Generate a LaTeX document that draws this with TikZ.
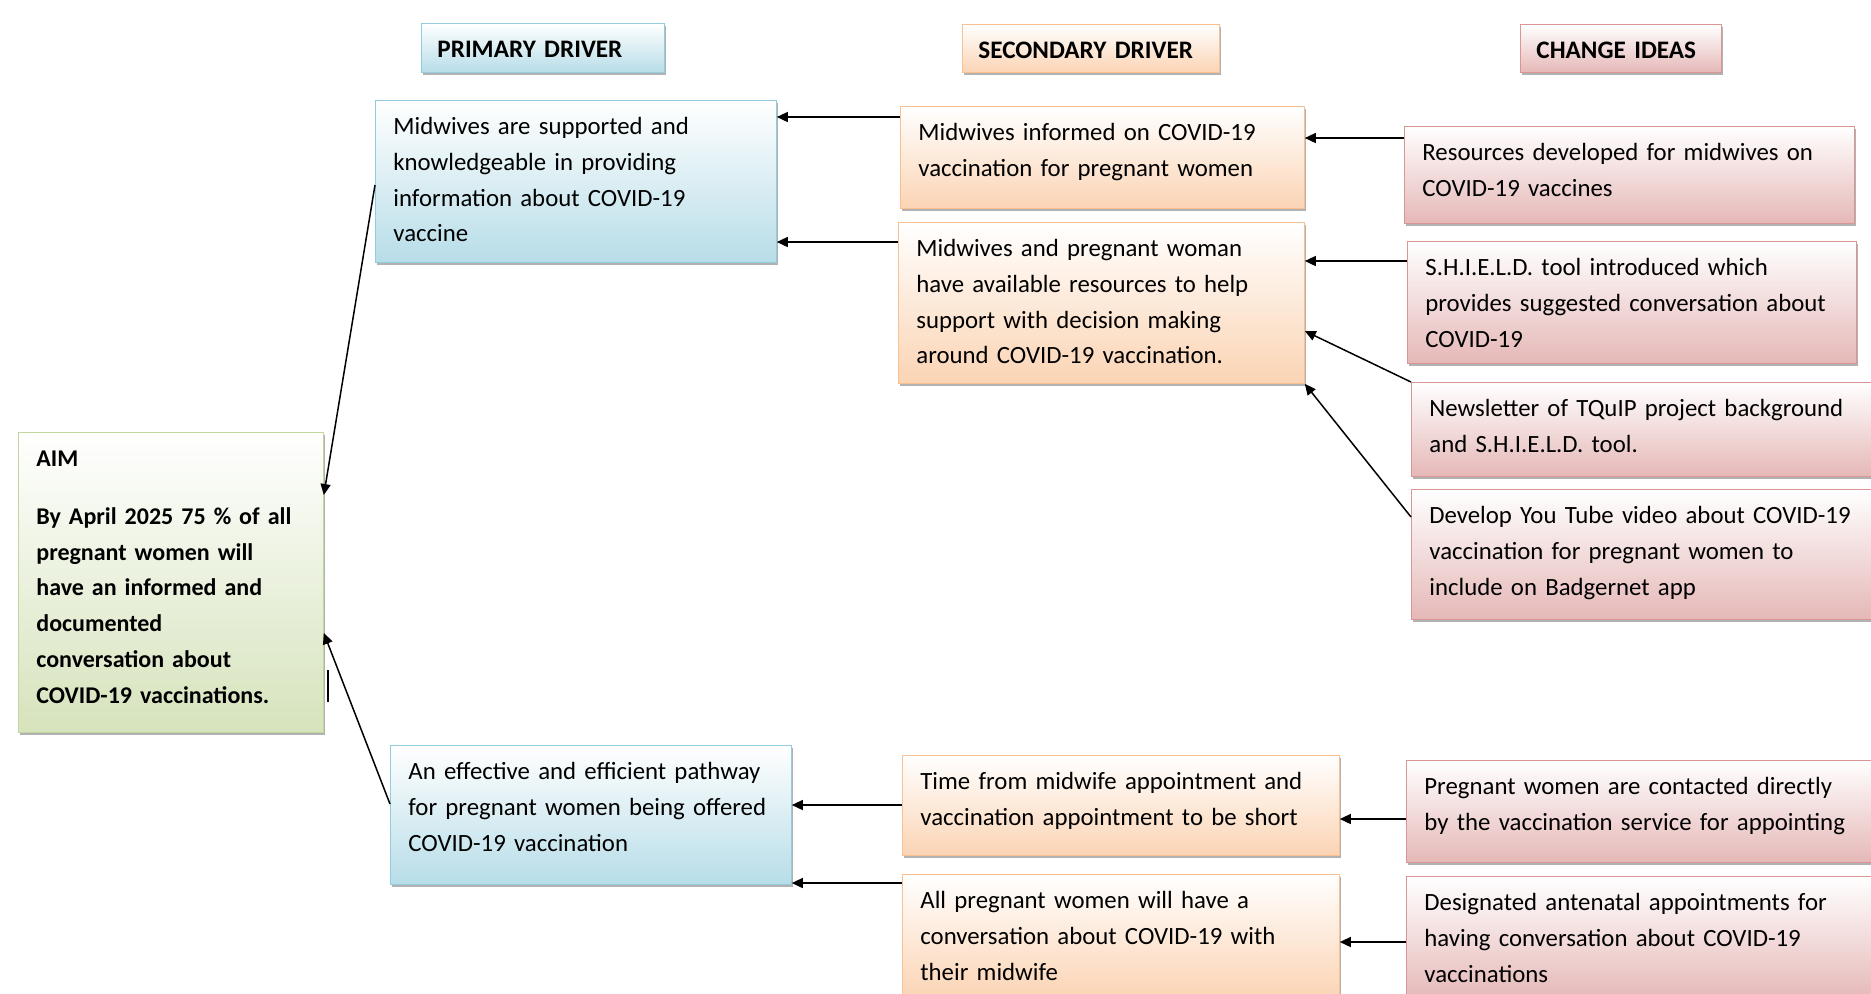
\documentclass[tikz,border=0pt]{standalone}
\usepackage{fontspec}
\setmainfont{Carlito}
\usetikzlibrary{positioning, calc}
\usetikzlibrary{arrows.meta, shadows}
\frenchspacing
\definecolor{priline}{HTML}{93CDDD}
\definecolor{prifill}{HTML}{B7DDE8}
\definecolor{secline}{HTML}{FAC090}
\definecolor{secfill}{HTML}{FBD4B4}
\definecolor{chgline}{HTML}{D99694}
\definecolor{chgfill}{HTML}{E5B8B7}
\definecolor{aimline}{HTML}{C3D69B}
\definecolor{aimfill}{HTML}{D6E3BC}
\tikzset{
    box/.style={draw, rectangle, anchor=north west, align=left,
        inner xsep=9pt, inner ysep=0pt, text height=17pt,
        font=\fontsize{12.4}{17.9}\selectfont,
        drop shadow={shadow xshift=0.8pt, shadow yshift=-1.2pt, fill=black, opacity=0.3}},
    wh/.style 2 args={text width=#1pt-18pt, text depth=#2pt-17pt},
    hd/.style={inner xsep=8pt, font=\fontsize{12.6}{17.9}\selectfont\bfseries},
    pri/.style={box, draw=priline, top color=white, bottom color=prifill},
    sec/.style={box, draw=secline, top color=white, bottom color=secfill},
    chg/.style={box, draw=chgline, top color=white, bottom color=chgfill},
    aimbox/.style={box, draw=aimline, top color=white, bottom color=aimfill,
        font=\fontsize{12}{17.9}\selectfont\bfseries},
    arr/.style={-{Triangle[length=5.5pt,width=5pt]}, line width=0.75pt}
}

\begin{document}
\begin{tikzpicture}[x=0.5pt,y=-0.5pt]
    \useasboundingbox (0,0) rectangle (1871,993);
    \clip (0,0) rectangle (1871,993);
    \node[pri, hd, wh={123.5}{24.5}] (hpri) at (421,23) {PRIMARY DRIVER};
    \node[sec, hd, wh={130.5}{24}] (hsec) at (962,24) {SECONDARY DRIVER};
    \node[chg, hd, wh={102.5}{24}] (hchg) at (1520,24) {CHANGE IDEAS};

    \node[aimbox, wh={152.5}{150}] (aim) at (18,432) {AIM\\[11pt]By April 2025 75 \% of all\\pregnant women will\\have an informed and\\documented\\conversation about\\COVID-19 vaccinations.};

    \node[pri, wh={200.5}{81}] (p1) at (375,100) {Midwives are supported and\\knowledgeable in providing\\information about COVID-19\\vaccine};
    \node[pri, wh={200.5}{69.5}] (p2) at (390,745) {An effective and efficient pathway\\for pregnant women being offered\\COVID-19 vaccination};

    \node[sec, wh={202}{51}] (s1) at (900,106) {Midwives informed on COVID-19\\vaccination for pregnant women};
    \node[sec, wh={203}{80.5}] (s2) at (898,222) {Midwives and pregnant woman\\have available resources to help\\support with decision making\\around COVID-19 vaccination.};
    \node[sec, wh={218.5}{50}] (s3) at (902,755) {Time from midwife appointment and\\vaccination appointment to be short};
    \node[sec, wh={218.5}{62}] (s4) at (902,874) {All pregnant women will have a\\conversation about COVID-19 with\\their midwife};

    \node[chg, wh={225}{48.5}] (c1) at (1404,126) {Resources developed for midwives on\\COVID-19 vaccines};
    \node[chg, wh={224.5}{61}] (c2) at (1407,241) {S.H.I.E.L.D. tool introduced which\\provides suggested conversation about\\COVID-19};
    \node[chg, wh={240}{47}] (c3) at (1411,382) {Newsletter of TQuIP project background\\and S.H.I.E.L.D. tool.};
    \node[chg, wh={240}{65}] (c4) at (1411,489) {Develop You Tube video about COVID-19\\vaccination for pregnant women to\\include on Badgernet app};
    \node[chg, wh={240}{51}] (c5) at (1406,760) {Pregnant women are contacted directly\\by the vaccination service for appointing};
    \node[chg, wh={240}{62}] (c6) at (1406,876) {Designated antenatal appointments for\\having conversation about COVID-19\\vaccinations};

    \draw[arr] (s1.west |- 0,117) -- (p1.east |- 0,117);
    \draw[arr] (s2.west |- 0,242) -- (p1.east |- 0,242);
    \draw[arr] (c1.west |- 0,138) -- (s1.east |- 0,138);
    \draw[arr] (c2.west |- 0,261) -- (s2.east |- 0,261);
    \draw[arr] (c3.north west) -- (s2.east |- 0,331);
    \draw[arr] (c4.west |- 0,517) -- (s2.south east);
    \draw[arr] (p1.west |- 0,185) -- (aim.east |- 0,495);
    \draw[arr] (p2.west |- 0,804) -- (aim.east |- 0,633);
    \draw[arr] (s3.west |- 0,805) -- (p2.east |- 0,805);
    \draw[arr] (s4.west |- 0,883) -- (p2.east |- 0,883);
    \draw[arr] (c5.west |- 0,819) -- (s3.east |- 0,819);
    \draw[arr] (c6.west |- 0,942) -- (s4.east |- 0,942);
    \draw[line width=0.8pt] (328,670) -- (328,702);
\end{tikzpicture}
\end{document}
